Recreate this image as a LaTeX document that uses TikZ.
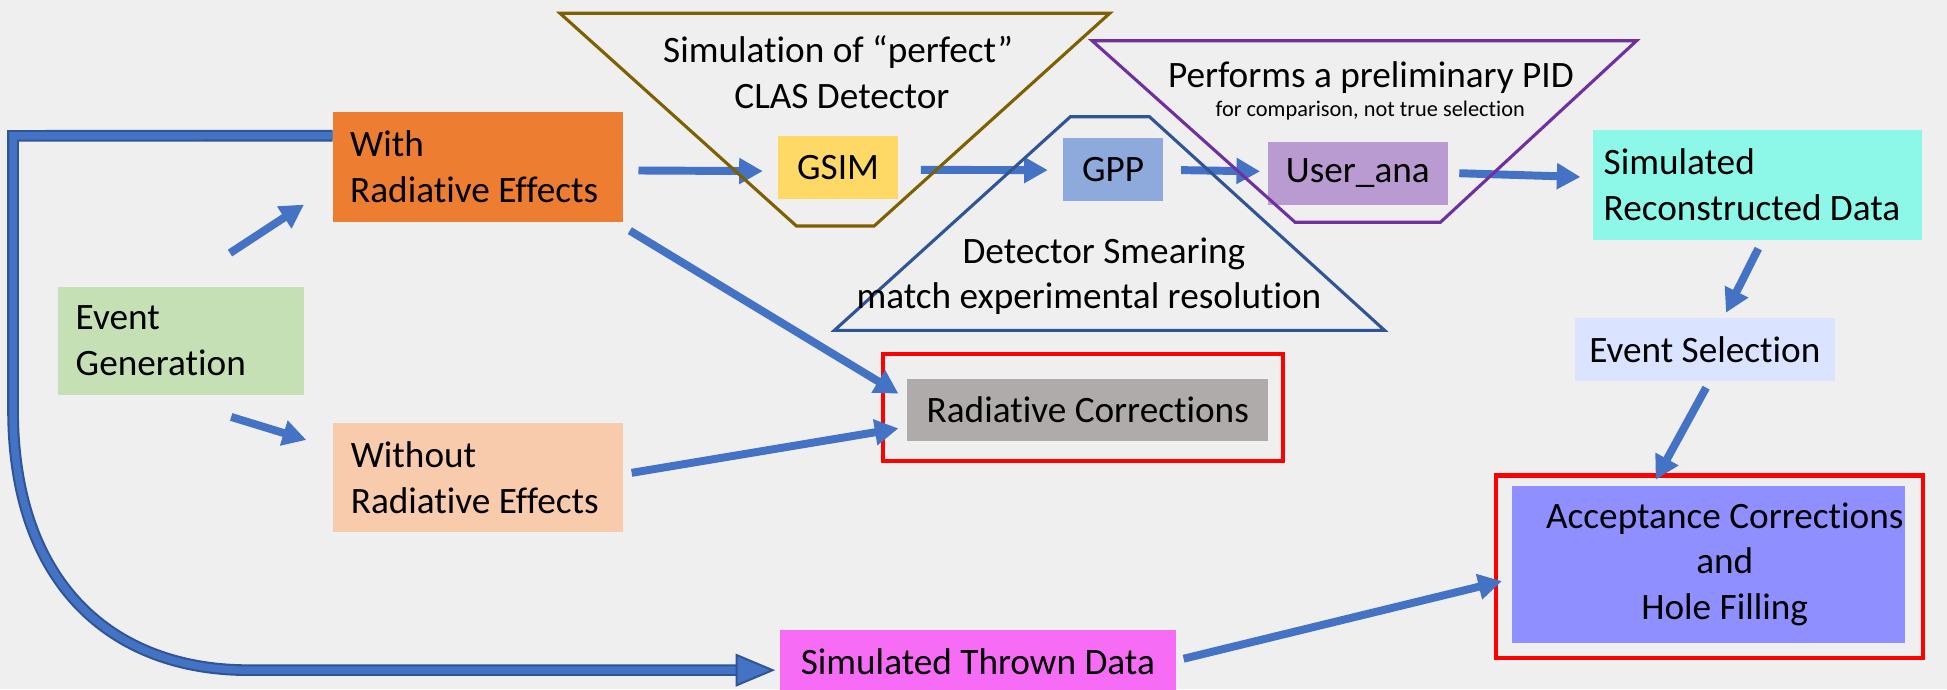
\documentclass[tikz,border=0pt]{standalone}
\usepackage{fontspec}
\setmainfont{Carlito}[Ligatures=NoCommon]
\usetikzlibrary{arrows.meta,calc}

\definecolor{bgc}{HTML}{EFEFEF}
\definecolor{flowblue}{HTML}{4472C4}
\definecolor{flowdark}{HTML}{2F5597}
\definecolor{gengreen}{HTML}{C5E0B4}
\definecolor{radorange}{HTML}{ED7D31}
\definecolor{radpeach}{HTML}{F8CBAD}
\definecolor{thrpink}{HTML}{F66CF5}
\definecolor{corgray}{HTML}{AFABAA}
\definecolor{gsimyellow}{HTML}{FFD966}
\definecolor{gppblue}{HTML}{8EA9DB}
\definecolor{anapurple}{HTML}{B99BD1}
\definecolor{recocyan}{HTML}{8DF7E8}
\definecolor{selblue}{HTML}{DAE3FF}
\definecolor{accblue}{HTML}{8F8FFF}
\definecolor{gsimbrown}{HTML}{7F6000}
\definecolor{smearblue}{HTML}{2F5597}
\definecolor{pidpurple}{HTML}{7030A0}

\begin{document}
\begin{tikzpicture}
		[x=1pt,y=-1pt]
		\tikzstyle{every node}=[rectangle, inner sep=0pt, font=\fontsize{30}{37}\selectfont]
		\tikzstyle{flow}=[draw=flowblue, line width=6.4pt, -{Triangle[length=19pt,width=20pt]}]
		\tikzstyle{redbox}=[draw=red, line width=3.3pt]
		\tikzstyle{funnel}=[line width=2.5pt]

		\useasboundingbox (0,0) rectangle (1568,555);
		\fill[bgc] (0,0) rectangle (1568,555);

		%-----generation and radiative branch
		\node[fill=gengreen, minimum width=198pt, minimum height=87pt, text width=170pt, align=flush left] (eg) at (146,274.5) {Event\\Generation};
		\node[fill=radorange, minimum width=234pt, minimum height=88.5pt, text width=206pt, align=flush left] (with) at (385,134.3) {With\\Radiative Effects};
		\node[fill=radpeach, minimum width=233pt, minimum height=88pt, text width=205pt, align=flush left] (without) at (385,384.8) {Without\\Radiative Effects};
		\node[fill=thrpink, minimum width=319pt, minimum height=51pt] (thrown) at (787.5,532.5) {Simulated Thrown Data};
		\node[fill=corgray, minimum width=290.5pt, minimum height=50pt] (radcor) at (876,330) {Radiative Corrections};
		\draw[redbox] ([shift={(-19.6,-20)}]radcor.north west) rectangle ([shift={(11.5,16)}]radcor.south east);

		%-----detector chain
		\node[fill=gsimyellow, minimum width=97pt, minimum height=50.5pt] (gsim) at (675,134.8) {GSIM};
		\node[fill=gppblue, minimum width=81pt, minimum height=51pt] (gpp) at (896.5,136.5) {GPP};
		\node[fill=anapurple, minimum width=145pt, minimum height=51pt] (ana) at (1093.5,139.5) {User\_ana};
		\node[fill=recocyan, minimum width=265pt, minimum height=88pt, text width=248pt, align=flush left] (reco) at (1415.5,149) {Simulated\\Reconstructed Data};
		\node[fill=selblue, minimum width=210pt, minimum height=51pt] (evsel) at (1373,281.5) {Event Selection};
		\node[fill=accblue, minimum width=316.5pt, minimum height=126pt] (acc) at (1376,454.5) {};
		\node[align=center] (acctxt) at ([shift={(13,0)}]acc.center) {Acceptance Corrections\\and\\Hole Filling};
		\draw[redbox] ([shift={(-12.5,-8.4)}]acc.north west) rectangle ([shift={(14.5,12.5)}]acc.south east);

		\foreach \from/\fx/\fy/\to/\tx/\ty in {eg.north east/-60/-27/with.south west/-23/-14,
			eg.south east/-59/17.6/without.north west/-21.6/13.7,
			with.east/12/3/gsim.west/-12/3,
			gsim.east/18/2/gpp.west/-12/0.5,
			gpp.east/14/0.5/ana.west/-6/-1.5,
			ana.east/9/0/reco.west/-10/-6.5,
			reco.south/0.5/7/evsel.north/17/-4,
			evsel.south/1/5/acc.north/-42.6/-5,
			with.south east/5/7/radcor.west/-7/-13,
			without.east/7/-4/radcor.west/-7/15,
			thrown.east/6/-2/acc.west/-8/13.5}
		\draw[flow] ([shift={(\fx,\fy)}]\from) -- ([shift={(\tx,\ty)}]\to);

		%-----thrown events, bypassing the detector
		\coordinate (thrtip) at ([shift={(-5.6,7.2)}]thrown.west);
		\draw[flowblue, line width=6pt, preaction={draw=flowdark, line width=9.4pt}]
			([shift={(0,-25)}]with.west) -- (10.5,109.4) -- (10.5,330)
			.. controls (10.5,470) and (90,539.7) .. (200,539.7) -- ([shift={(-28,0)}]thrtip);
		\filldraw[fill=flowblue, draw=flowdark, line width=1.6pt] ([shift={(-29,-12.2)}]thrtip) -- (thrtip) -- ([shift={(-29,12.2)}]thrtip) -- cycle;

		%-----stages
		\draw[funnel, gsimbrown] (451,10.7) -- (893.7,10.7) -- (704,182) -- (641.4,182) -- cycle;
		\draw[funnel, smearblue] (862,94) -- (925.7,94) -- (1115,266) -- (672,266) -- cycle;
		\draw[funnel, pidpurple] (879.5,32.8) -- (1318,32.8) -- (1160,179) -- (1043,179) -- cycle;
		\node[anchor=base] (simtxt) at (675,50.5) {Simulation of “perfect”};
		\node[anchor=base] (clastxt) at (678,87.2) {CLAS Detector};
		\node[anchor=base] (pidtxt) at (1104,70.3) {Performs a preliminary PID};
		\node[anchor=base, font=\fontsize{18}{20}\selectfont] (pidnote) at (1103.5,94) {for comparison, not true selection};
		\node[anchor=base] (smeartxt) at (889,212) {Detector Smearing};
		\node[anchor=base] (restxt) at (877,248.3) {match experimental resolution};
\end{tikzpicture}
\end{document}
